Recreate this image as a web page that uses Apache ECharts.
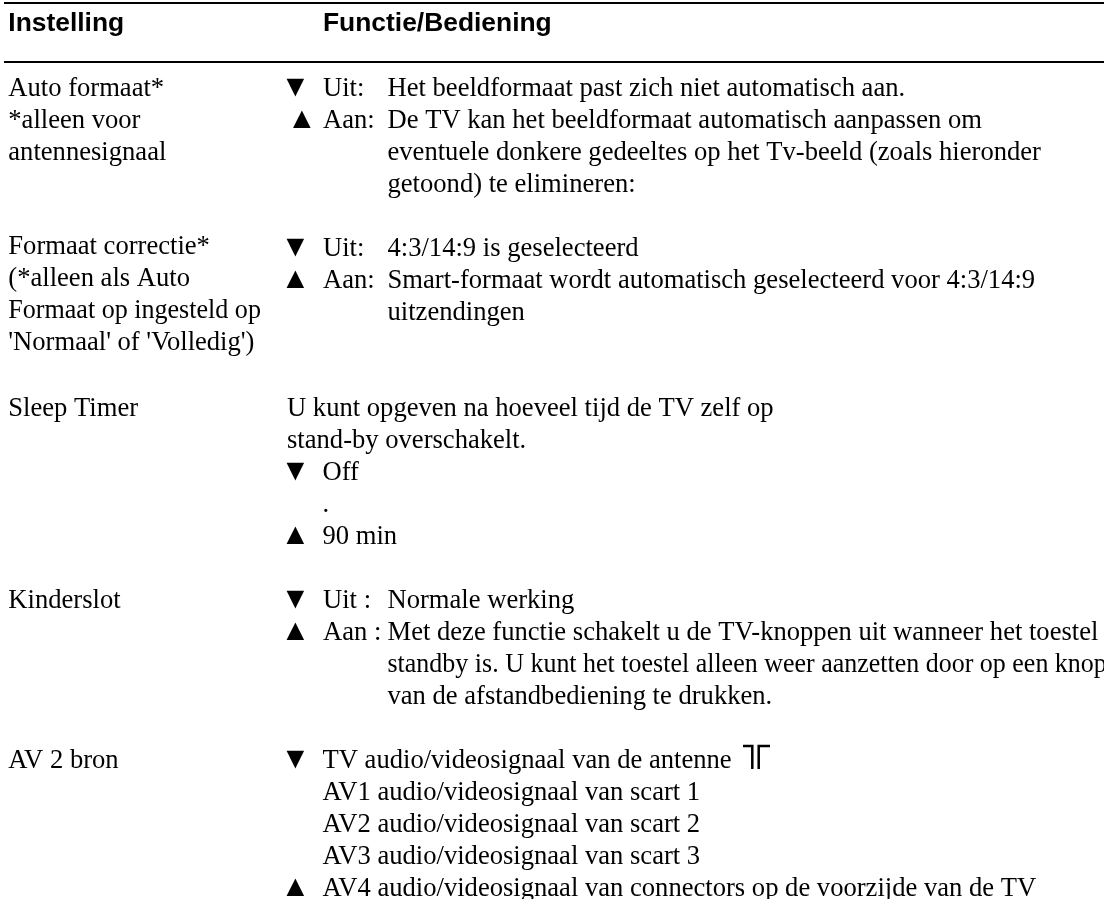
<!doctype html>
<html>
<head>
<meta charset="UTF-8">
<title>Instelling</title>
<style>html,body{margin:0;padding:0;background:#fff}#main{width:1104px;height:899px}</style>
<script src="https://cdn.jsdelivr.net/npm/echarts@6/dist/echarts.min.js"></script>
</head>
<body>
<div id="main"></div>
<script>
// table content
var headers = ['Instelling', 'Functie/Bediening'];
var settings = [
  ['Auto formaat*', '*alleen voor', 'antennesignaal'],
  ['Formaat correctie*', '(*alleen als Auto', 'Formaat op ingesteld op', "'Normaal' of 'Volledig')"],
  ['Sleep Timer'],
  ['Kinderslot'],
  ['AV 2 bron']
];
var keys = [
  ['Uit:', 'Aan:'],
  ['Uit:', 'Aan:'],
  [],
  ['Uit :', 'Aan :'],
  []
];
var descriptions = [
  ['Het beeldformaat past zich niet automatisch aan.',
   'De TV kan het beeldformaat automatisch aanpassen om',
   'eventuele donkere gedeeltes op het Tv-beeld (zoals hieronder',
   'getoond) te elimineren:'],
  ['4:3/14:9 is geselecteerd',
   'Smart-formaat wordt automatisch geselecteerd voor 4:3/14:9',
   'uitzendingen'],
  ['U kunt opgeven na hoeveel tijd de TV zelf op',
   'stand-by overschakelt.',
   'Off',
   '.',
   '90 min'],
  ['Normale werking',
   'Met deze functie schakelt u de TV-knoppen uit wanneer het toestel',
   'standby is. U kunt het toestel alleen weer aanzetten door op een knop',
   'van de afstandbediening te drukken.'],
  ['TV audio/videosignaal van de antenne',
   'AV1 audio/videosignaal van scart 1',
   'AV2 audio/videosignaal van scart 2',
   'AV3 audio/videosignaal van scart 3',
   'AV4 audio/videosignaal van connectors op de voorzijde van de TV']
];
var arrowDown = '\u25BC';
var arrowUp = '\u25B2';

var serif = '"Liberation Serif", serif';
var sans = '"Liberation Sans", sans-serif';
var fontSize = 26.6;
var arrowSize = 30;
var lineGap = 32;
var leftBase = [95, 253, 415, 607, 767];
var rightBase = [95, 255, 415, 607, 767];
// line index of the down / up arrow in each row
var arrowLines = [[0, 1], [0, 1], [2, 4], [0, 1], [0, 4]];
// the original sets these lines a bit tighter
var tightLines = {'Formaat op ingesteld op': 0.98, 'standby is. U kunt het toestel alleen weer aanzetten door op een knop': 0.977};
var elements = [];

function addText(str, x, base, font, size, weight) {
  size = size || fontSize;
  elements.push({
    type: 'text', x: x, y: base - size * 0.77, scaleX: tightLines[str] || 1,
    style: {text: str, fill: '#000', font: (weight || 'normal') + ' ' + size + 'px ' + (font || serif)}
  });
}
function addRule(y) {
  elements.push({type: 'rect', shape: {x: 4, y: y, width: 1100, height: 2}, style: {fill: '#000'}});
}
function addStroke(points) {
  elements.push({type: 'polyline', shape: {points: points}, style: {stroke: '#000', lineWidth: 2.5, fill: 'none'}});
}

addRule(2);
addRule(61);
addText(headers[0], 8.3, 31.5, sans, 26.4, 'bold');
addText(headers[1], 323, 31.5, sans, 26.4, 'bold');

settings.forEach(function (lines, r) {
  lines.forEach(function (t, i) { addText(t, 8.3, leftBase[r] + 1 + i * lineGap); });
});
descriptions.forEach(function (lines, r) {
  var base = rightBase[r] + 1;
  lines.forEach(function (t, i) {
    var x = 387.5;
    if (r === 2) x = i < 2 ? 287 : 322.5;
    if (r === 4) x = 322.5;
    if (keys[r].length && i < 2) addText(keys[r][i], 323, base + i * lineGap);
    addText(t, x, base + i * lineGap);
  });
  addText(arrowDown, 280.5, base + arrowLines[r][0] * lineGap, serif, arrowSize);
  addText(arrowUp, r === 0 ? 287 : 280.5, base + arrowLines[r][1] * lineGap, serif, arrowSize);
});
// antenna mark after the TV line
addStroke([[743, 746], [752.3, 746], [752.3, 769]]);
addStroke([[758.7, 769], [758.7, 746], [770, 746]]);

var option = {
  backgroundColor: '#fff',
  animation: false,
  graphic: {elements: elements}
};
var myChart = echarts.init(document.getElementById('main'));
myChart.setOption(option);
</script>
</body>
</html>
